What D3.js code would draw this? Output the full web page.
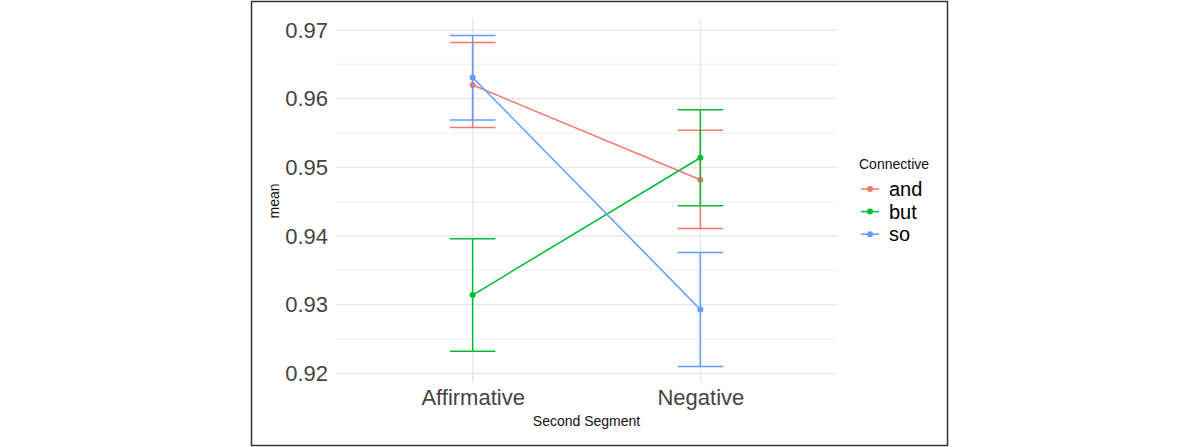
<!DOCTYPE html>
<html>
<head>
<meta charset="utf-8">
<script src="https://cdn.jsdelivr.net/npm/d3@7"></script>
<style>
  body { margin: 0; background: #fff; }
  text { font-family: "Liberation Sans", Arial, sans-serif; }
</style>
</head>
<body>
<div class="chart"></div>
<script>
// data
var segments = ["Affirmative", "Negative"];
var connectives = ["and", "but", "so"];
var meanAnd = [0.9620, 0.9482];
var meanBut = [0.9314, 0.9514];
var meanSo  = [0.9631, 0.9293];
var upperAnd = [0.9682, 0.9554];
var upperBut = [0.9396, 0.9584];
var upperSo  = [0.9692, 0.9376];
var lowerAnd = [0.9558, 0.9411];
var lowerBut = [0.9232, 0.9444];
var lowerSo  = [0.9569, 0.9210];
var yTicks = [0.92, 0.93, 0.94, 0.95, 0.96, 0.97];
var yMinor = [0.925, 0.935, 0.945, 0.955, 0.965];

var width = 1200,
    height = 447;
var panel = {left: 336, right: 837, top: 19, bottom: 383};

var series = [
  {name: "and", mean: meanAnd, upper: upperAnd, lower: lowerAnd},
  {name: "but", mean: meanBut, upper: upperBut, lower: lowerBut},
  {name: "so",  mean: meanSo,  upper: upperSo,  lower: lowerSo}
];

var color = d3.scaleOrdinal()
    .domain(connectives)
    .range(["#F8766D", "#00BA38", "#619CFF"]);

var svg = d3.select(".chart")
  .append("svg")
    .attr("width", width)
    .attr("height", height);

// outer frame
svg.append("rect")
    .attr("x", 251.5).attr("y", 1.5)
    .attr("width", 696).attr("height", 444)
    .attr("fill", "#fff")
    .attr("stroke", "#333")
    .attr("stroke-width", 1.5);

var x = d3.scalePoint()
    .domain(segments)
    .range([panel.left, panel.right])
    .padding(0.6);

// ggplot-like 5% expansion of the data range
var lo = d3.min(series, s => d3.min(s.lower)),
    hi = d3.max(series, s => d3.max(s.upper)),
    pad = (hi - lo) * 0.05;
var y = d3.scaleLinear()
    .domain([lo - pad, hi + pad])
    .range([panel.bottom, panel.top]);

// grid
var grid = svg.append("g");
grid.selectAll(".minor")
  .data(yMinor)
  .join("line")
    .attr("x1", panel.left).attr("x2", panel.right)
    .attr("y1", d => y(d)).attr("y2", d => y(d))
    .attr("stroke", "#efefef")
    .attr("stroke-width", 0.9);
grid.selectAll(".major")
  .data(yTicks)
  .join("line")
    .attr("x1", panel.left).attr("x2", panel.right)
    .attr("y1", d => y(d)).attr("y2", d => y(d))
    .attr("stroke", "#e8e8e8")
    .attr("stroke-width", 1.3);
grid.selectAll(".vmajor")
  .data(segments)
  .join("line")
    .attr("x1", d => x(d)).attr("x2", d => x(d))
    .attr("y1", panel.top).attr("y2", panel.bottom)
    .attr("stroke", "#e8e8e8")
    .attr("stroke-width", 1.3);

// axes
var yAxis = svg.append("g")
    .attr("transform", "translate(" + panel.left + ",0)")
    .call(d3.axisLeft(y).tickValues(yTicks).tickSize(0).tickPadding(8).tickFormat(d3.format(".2f")));
yAxis.select(".domain").remove();
yAxis.selectAll("text")
    .attr("font-size", 22)
    .attr("fill", "#444")
    .attr("font-family", "Liberation Sans, Arial, sans-serif");

var xAxis = svg.append("g")
    .attr("transform", "translate(0," + panel.bottom + ")")
    .call(d3.axisBottom(x).tickSize(0).tickPadding(6));
xAxis.select(".domain").remove();
xAxis.selectAll("text")
    .attr("font-size", 22)
    .attr("fill", "#444")
    .attr("font-family", "Liberation Sans, Arial, sans-serif");

svg.append("text")
    .attr("x", (panel.left + panel.right) / 2)
    .attr("y", 426)
    .attr("text-anchor", "middle")
    .attr("font-size", 14)
    .attr("fill", "#111")
    .text("Second Segment");

svg.append("text")
    .attr("transform", "translate(279," + ((panel.top + panel.bottom) / 2) + ") rotate(-90)")
    .attr("text-anchor", "middle")
    .attr("font-size", 14)
    .attr("fill", "#111")
    .text("mean");

// error bars, lines, points
var capHalf = x.step() * 0.1;
var groups = svg.append("g").selectAll("g")
  .data(series)
  .join("g")
    .attr("stroke", d => color(d.name))
    .attr("fill", d => color(d.name));

groups.each(function(s) {
  var g = d3.select(this);
  var pts = segments.map((seg, i) => ({seg: seg, m: s.mean[i], u: s.upper[i], l: s.lower[i]}));
  g.selectAll(".bar")
    .data(pts)
    .join("line")
      .attr("x1", d => x(d.seg)).attr("x2", d => x(d.seg))
      .attr("y1", d => y(d.u)).attr("y2", d => y(d.l))
      .attr("stroke-width", 1.5);
  g.selectAll(".capU")
    .data(pts)
    .join("line")
      .attr("x1", d => x(d.seg) - capHalf).attr("x2", d => x(d.seg) + capHalf)
      .attr("y1", d => y(d.u)).attr("y2", d => y(d.u))
      .attr("stroke-width", 1.5);
  g.selectAll(".capL")
    .data(pts)
    .join("line")
      .attr("x1", d => x(d.seg) - capHalf).attr("x2", d => x(d.seg) + capHalf)
      .attr("y1", d => y(d.l)).attr("y2", d => y(d.l))
      .attr("stroke-width", 1.5);
  g.append("path")
    .datum(pts)
    .attr("fill", "none")
    .attr("stroke-width", 1.5)
    .attr("d", d3.line().x(d => x(d.seg)).y(d => y(d.m)));
  g.selectAll("circle")
    .data(pts)
    .join("circle")
      .attr("cx", d => x(d.seg))
      .attr("cy", d => y(d.m))
      .attr("r", 3)
      .attr("stroke", "none");
});

// legend
var legend = svg.append("g");
legend.append("text")
    .attr("x", 859).attr("y", 169)
    .attr("font-size", 14)
    .attr("fill", "#111")
    .text("Connective");
var items = legend.selectAll(".item")
  .data(connectives)
  .join("g")
    .attr("transform", (d, i) => "translate(861," + (189 + i * 22.6) + ")");
items.append("line")
    .attr("x1", 0).attr("x2", 18)
    .attr("stroke", d => color(d))
    .attr("stroke-width", 1.5);
items.append("circle")
    .attr("cx", 9).attr("r", 3)
    .attr("fill", d => color(d));
items.append("text")
    .attr("x", 28).attr("y", 7)
    .attr("font-size", 20)
    .attr("fill", "#000")
    .text(d => d);
</script>
</body>
</html>
